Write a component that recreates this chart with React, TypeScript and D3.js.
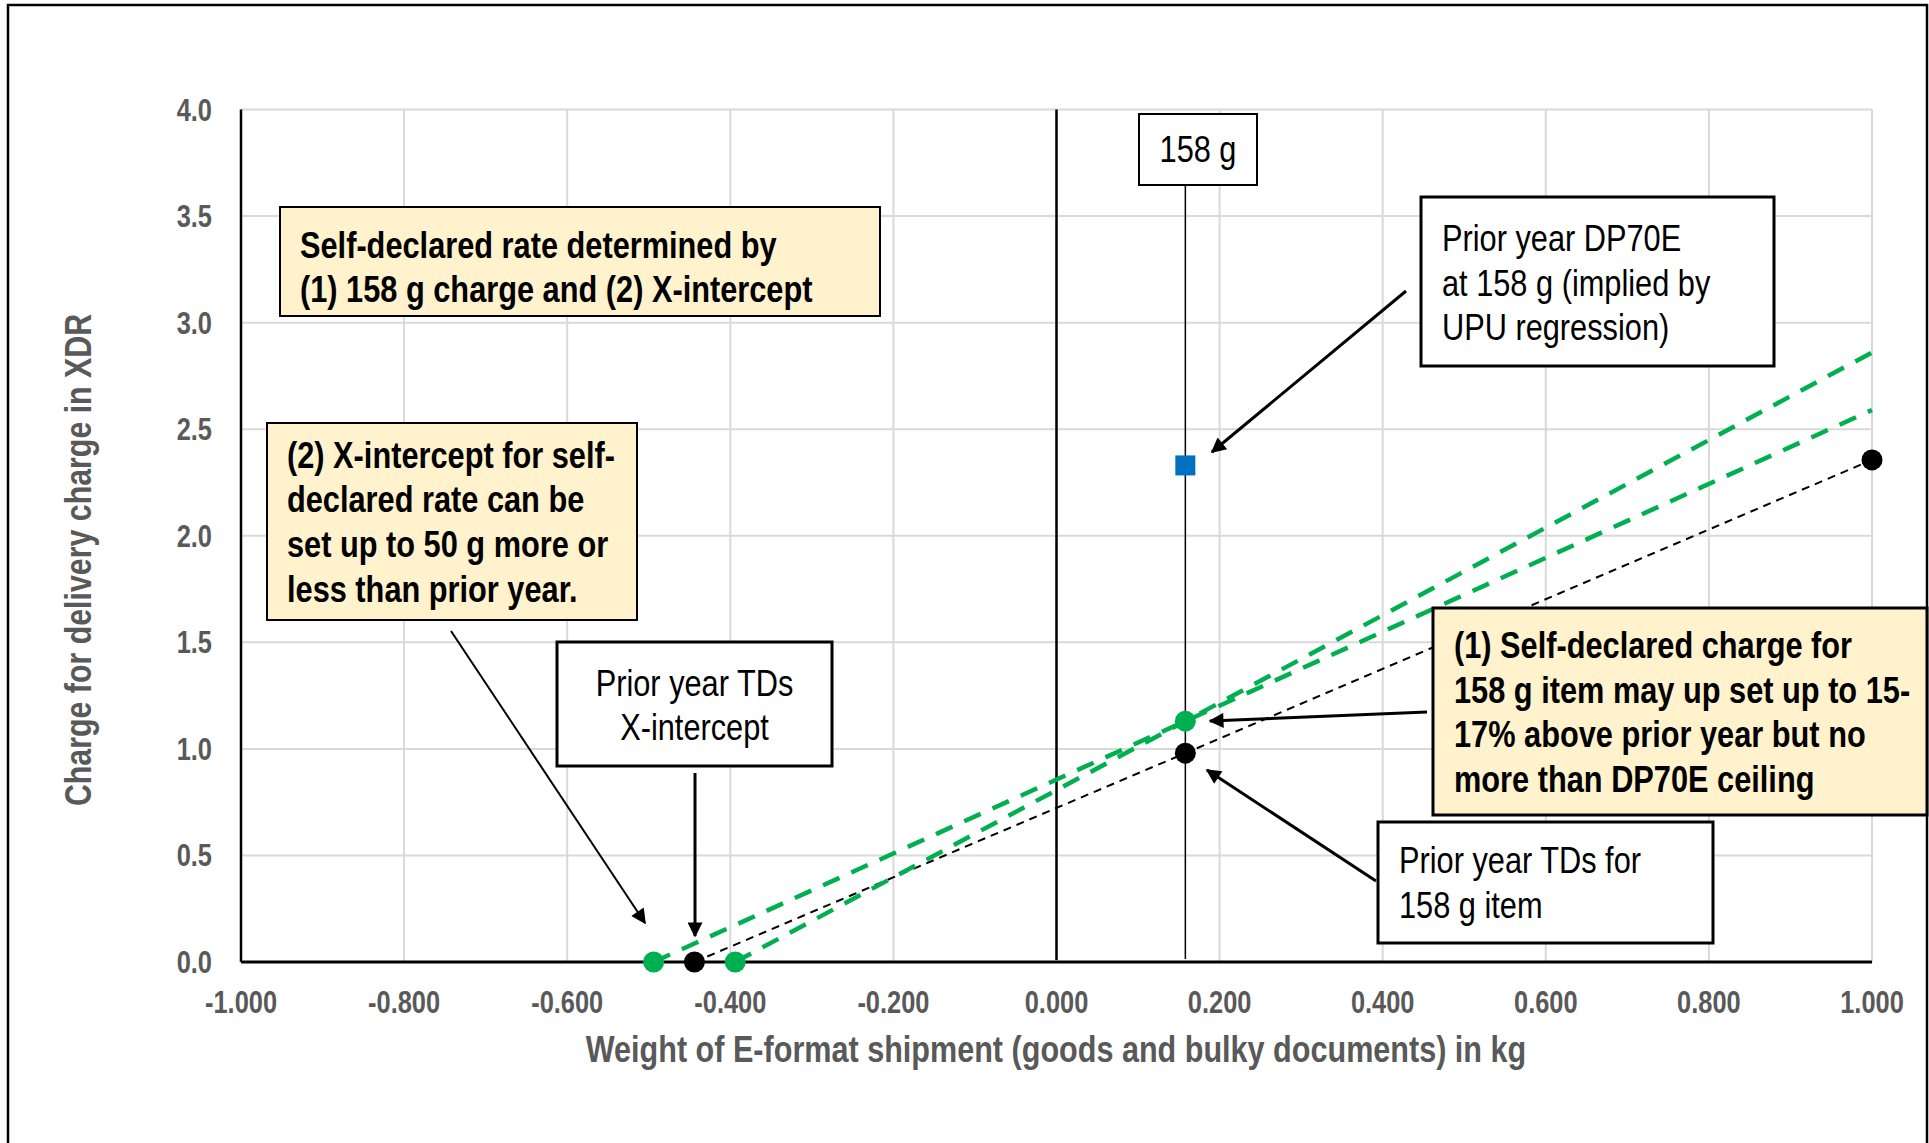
import React from "react";
import * as d3 from "d3";

const W = 1929;
const H = 1143;

// Data
const xTicks = [-1.0, -0.8, -0.6, -0.4, -0.2, 0.0, 0.2, 0.4, 0.6, 0.8, 1.0];
const yTicks = [0.0, 0.5, 1.0, 1.5, 2.0, 2.5, 3.0, 3.5, 4.0];
const itemWeight = 0.158;

const priorX = [-0.444, 0.158, 1.0];
const priorY = [0, 0.98, 2.356];

const greenLowX = [-0.494, 0.158, 1.0];
const greenLowY = [0, 1.13, 2.59];

const greenHighX = [-0.394, 0.158, 1.0];
const greenHighY = [0, 1.13, 2.86];

const priorMarkersIdx = [0, 1, 2];
const greenLowMarkersIdx = [0, 1];
const greenHighMarkersIdx = [0];

const dp70eX = [0.158];
const dp70eY = [2.33];

const xTitle = "Weight of E-format shipment (goods and bulky documents) in kg";
const yTitle = "Charge for delivery charge in XDR";

const FONT = "'Liberation Sans', Arial, sans-serif";
const NARROW = 0.82;
const GRAY = "#595959";
const YELLOW = "#fff2cc";
const GREEN = "#00b050";

const x = d3.scaleLinear().domain([-1, 1]).range([241, 1872]);
const y = d3.scaleLinear().domain([0, 4]).range([962, 109.5]);

type Pt = [number, number];
const zip = (xs: number[], ys: number[]): Pt[] => xs.map((v, i) => [v, ys[i]]);
const line = d3
  .line<Pt>()
  .x((d) => x(d[0]))
  .y((d) => y(d[1]));

const fmt1 = (v: number) => d3.format(".1f")(v).replace("\u2212", "-");
const fmt3 = (v: number) => d3.format(".3f")(v).replace("\u2212", "-");

function NText(props: {
  x: number;
  y: number;
  size: number;
  bold?: boolean;
  fill?: string;
  anchor?: "start" | "middle" | "end";
  rotate?: number;
  children: React.ReactNode;
}) {
  const rot = props.rotate ? ` rotate(${props.rotate})` : "";
  return (
    <text
      transform={`translate(${props.x},${props.y})${rot} scale(${NARROW},1)`}
      fontFamily={FONT}
      fontSize={props.size}
      fontWeight={props.bold ? "bold" : "normal"}
      fill={props.fill || "#000"}
      textAnchor={props.anchor || "start"}
    >
      {props.children}
    </text>
  );
}

function Box(props: {
  x: number;
  y: number;
  w: number;
  h: number;
  fill: string;
  sw: number;
  lines: string[];
  tx: number;
  baselines: number[];
  bold?: boolean;
  anchor?: "start" | "middle";
}) {
  return (
    <g>
      <rect
        x={props.x}
        y={props.y}
        width={props.w}
        height={props.h}
        fill={props.fill}
        stroke="#000"
        strokeWidth={props.sw}
      />
      {props.lines.map((t, i) => (
        <NText
          key={i}
          x={props.tx}
          y={props.baselines[i]}
          size={37.5}
          bold={props.bold}
          anchor={props.anchor || "start"}
        >
          {t}
        </NText>
      ))}
    </g>
  );
}

function Arrow(props: { x1: number; y1: number; x2: number; y2: number; sw: number }) {
  return (
    <line
      x1={props.x1}
      y1={props.y1}
      x2={props.x2}
      y2={props.y2}
      stroke="#000"
      strokeWidth={props.sw}
      markerEnd="url(#arrowhead)"
    />
  );
}

export default function App() {
  return (
    <svg
      width={W}
      height={H}
      style={{ position: "absolute", left: 0, top: 0, background: "#fff" }}
    >
      <defs>
        <marker
          id="arrowhead"
          viewBox="0 0 10 10"
          refX="9"
          refY="5"
          markerUnits="userSpaceOnUse"
          markerWidth="19"
          markerHeight="15"
          orient="auto"
        >
          <path d="M0,0 L10,5 L0,10 z" fill="#000" />
        </marker>
      </defs>
      <rect x={0} y={0} width={W} height={H} fill="#fff" />
      {/* outer border */}
      <rect x={8} y={5} width={1919} height={1300} fill="none" stroke="#000" strokeWidth={2.5} />

      {/* gridlines */}
      {xTicks.map((t) => (
        <line key={"gx" + t} x1={x(t)} x2={x(t)} y1={y(0)} y2={y(4)} stroke="#d9d9d9" strokeWidth={2} />
      ))}
      {yTicks.map((t) => (
        <line key={"gy" + t} x1={x(-1)} x2={x(1)} y1={y(t)} y2={y(t)} stroke="#d9d9d9" strokeWidth={2} />
      ))}

      {/* axes */}
      <line x1={x(-1)} x2={x(-1)} y1={y(4)} y2={y(0)} stroke="#000" strokeWidth={2.5} />
      <line x1={x(-1)} x2={x(1)} y1={y(0)} y2={y(0)} stroke="#000" strokeWidth={3} />
      <line x1={x(0)} x2={x(0)} y1={y(4)} y2={y(0) - 2} stroke="#000" strokeWidth={2.5} />

      {/* tick labels */}
      {yTicks.map((t) => (
        <NText key={"ty" + t} x={212} y={y(t) + 11} anchor="end" bold size={31} fill={GRAY}>
          {fmt1(t)}
        </NText>
      ))}
      {xTicks.map((t) => (
        <NText key={"tx" + t} x={x(t)} y={1013} anchor="middle" bold size={31} fill={GRAY}>
          {fmt3(t)}
        </NText>
      ))}

      {/* axis titles */}
      <NText x={1056} y={1062} anchor="middle" bold size={37.3} fill={GRAY}>
        {xTitle}
      </NText>
      <NText x={91} y={560} rotate={-90} anchor="middle" bold size={37} fill={GRAY}>
        {yTitle}
      </NText>

      {/* 158 g vertical line */}
      <line x1={x(itemWeight)} x2={x(itemWeight)} y1={185} y2={959} stroke="#000" strokeWidth={1.5} />

      {/* series lines */}
      <path
        d={line(zip(priorX, priorY)) || ""}
        fill="none"
        stroke="#000"
        strokeWidth={2}
        strokeDasharray="8,6"
      />
      <path
        d={line(zip(greenLowX, greenLowY)) || ""}
        fill="none"
        stroke={GREEN}
        strokeWidth={4.5}
        strokeDasharray="18,13"
      />
      <path
        d={line(zip(greenHighX, greenHighY)) || ""}
        fill="none"
        stroke={GREEN}
        strokeWidth={4.5}
        strokeDasharray="18,13"
      />

      {/* markers */}
      {greenLowMarkersIdx.map((i) => (
        <circle key={"gl" + i} cx={x(greenLowX[i])} cy={y(greenLowY[i])} r={10.5} fill={GREEN} />
      ))}
      {greenHighMarkersIdx.map((i) => (
        <circle key={"gh" + i} cx={x(greenHighX[i])} cy={y(greenHighY[i])} r={10.5} fill={GREEN} />
      ))}
      {priorMarkersIdx.map((i) => (
        <circle key={"p" + i} cx={x(priorX[i])} cy={y(priorY[i])} r={10.5} fill="#000" />
      ))}
      {dp70eX.map((v, i) => (
        <rect key={"dp" + i} x={x(v) - 10} y={y(dp70eY[i]) - 10} width={20} height={20} fill="#0070c0" />
      ))}

      {/* boxes */}
      <Box
        x={1139}
        y={114}
        w={118}
        h={71}
        fill="#fff"
        sw={2}
        lines={["158 g"]}
        tx={1198}
        baselines={[162]}
        anchor="middle"
      />
      <Box
        x={280}
        y={207}
        w={600}
        h={109}
        fill={YELLOW}
        sw={2}
        bold
        lines={["Self-declared rate determined by", "(1) 158 g charge and (2) X-intercept"]}
        tx={300}
        baselines={[258, 302]}
      />
      <Box
        x={267}
        y={423}
        w={370}
        h={197}
        fill={YELLOW}
        sw={2}
        bold
        lines={[
          "(2) X-intercept for self-",
          "declared rate can be",
          "set up to 50 g more or",
          "less than prior year.",
        ]}
        tx={287}
        baselines={[468, 512, 557, 602]}
      />
      <Box
        x={557}
        y={642}
        w={275}
        h={124}
        fill="#fff"
        sw={3}
        lines={["Prior year TDs", "X-intercept"]}
        tx={694.5}
        baselines={[696, 740]}
        anchor="middle"
      />
      <Box
        x={1421}
        y={197}
        w={353}
        h={169}
        fill="#fff"
        sw={3}
        lines={["Prior year DP70E", "at 158 g (implied by", "UPU regression)"]}
        tx={1442}
        baselines={[251, 296, 340]}
      />
      <Box
        x={1433}
        y={608}
        w={494}
        h={207}
        fill={YELLOW}
        sw={3}
        bold
        lines={[
          "(1) Self-declared charge for",
          "158 g item may up set up to 15-",
          "17% above prior year but no",
          "more than DP70E ceiling",
        ]}
        tx={1454}
        baselines={[658, 703, 747, 792]}
      />
      <Box
        x={1378}
        y={822}
        w={335}
        h={121}
        fill="#fff"
        sw={3}
        lines={["Prior year TDs for", "158 g item"]}
        tx={1399}
        baselines={[873, 918]}
      />

      {/* arrows */}
      <Arrow x1={451} y1={631} x2={645} y2={923} sw={2} />
      <Arrow x1={695} y1={773} x2={695} y2={936} sw={3} />
      <Arrow x1={1406} y1={291} x2={1212} y2={452} sw={3} />
      <Arrow x1={1427} y1={712} x2={1210} y2={721} sw={3} />
      <Arrow x1={1376} y1={881} x2={1207} y2={770} sw={3} />
    </svg>
  );
}
